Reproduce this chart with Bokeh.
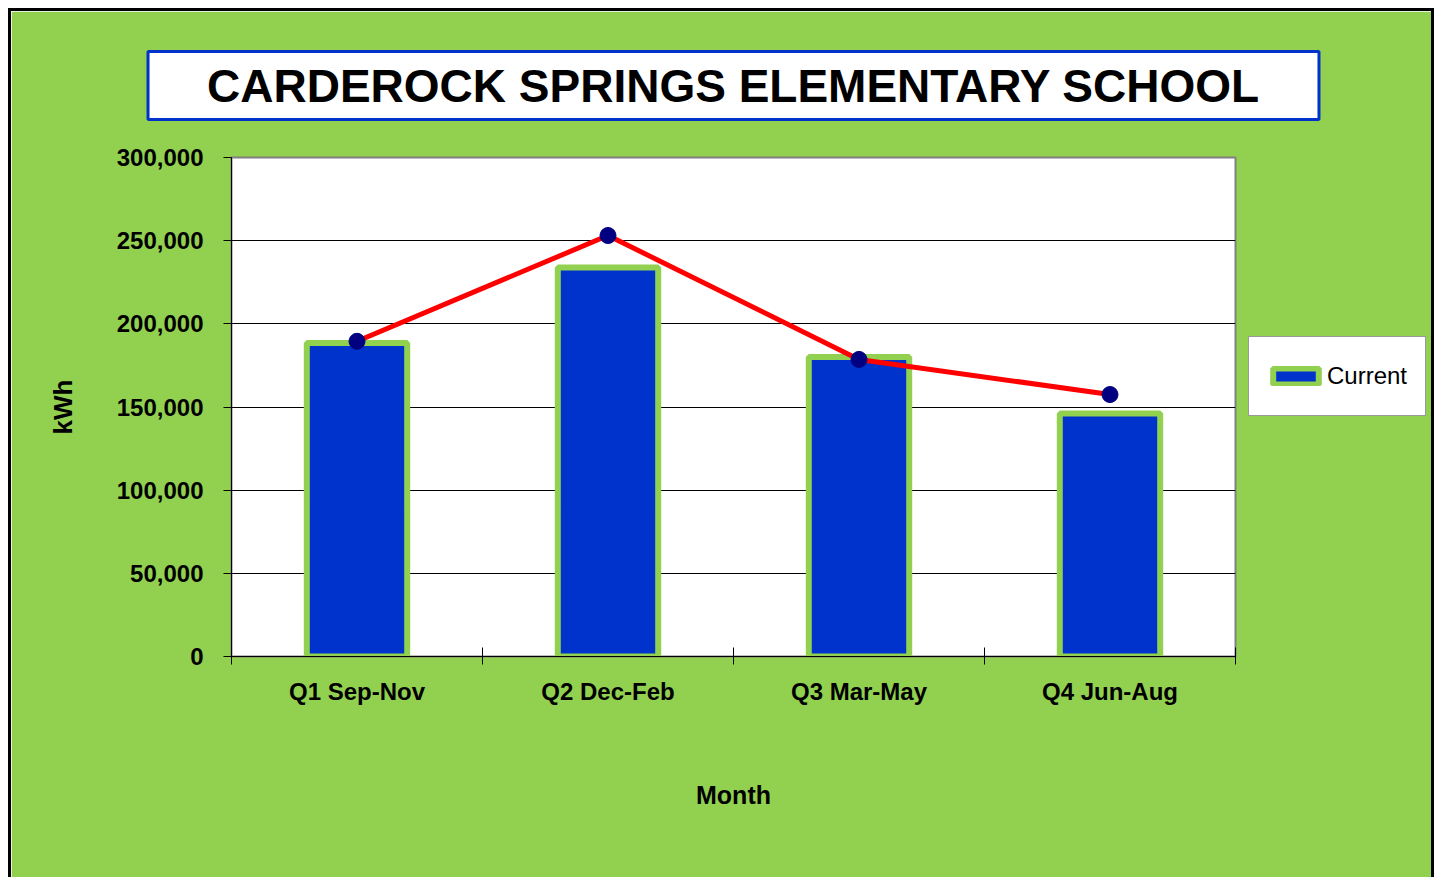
from bokeh.plotting import figure
from bokeh.models import (Range1d, FixedTicker, NumeralTickFormatter, Legend, LegendItem)
from bokeh.embed import file_html
from bokeh.resources import INLINE

# ---- data ----
quarters = ["Q1 Sep-Nov", "Q2 Dec-Feb", "Q3 Mar-May", "Q4 Jun-Aug"]
current_kwh = [188500, 233900, 180000, 146100]
baseline_kwh = [189500, 253100, 178600, 157500]
y_ticks = [0, 50000, 100000, 150000, 200000, 250000, 300000]
title_text = "CARDEROCK SPRINGS ELEMENTARY SCHOOL"

GREEN = "#92D050"
BLUE = "#0033CC"
RED = "#FF0000"
NAVY = "#000080"
FONT = "Liberation Sans"

xs = [i + 0.5 for i in range(len(quarters))]

p = figure(frame_width=1004, frame_height=499, output_backend="svg", toolbar_location=None,
           x_range=Range1d(0, len(quarters)), y_range=Range1d(0, 300000),
           min_border_left=220, min_border_right=0, min_border_top=146, min_border_bottom=221)
p.styles = {"margin-left": "8px", "margin-top": "8px",
            "max-width": "1426px", "overflow": "hidden",
            "border-left": "3px solid black", "border-top": "3px solid black",
            "border-right": "3px solid black"}

p.border_fill_color = GREEN
p.background_fill_color = "white"
p.outline_line_color = "#808080"
p.outline_line_width = 2

bars = p.vbar(x=xs, top=current_kwh, width=0.40, fill_color=BLUE,
              line_color=GREEN, line_width=6)
p.line(xs, baseline_kwh, line_color=RED, line_width=5)
p.scatter(xs, baseline_kwh, size=16, fill_color=NAVY, line_color=NAVY)

xa = p.below[0]
ya = p.left[0]

# title
p.title.text = title_text
p.title.align = "center"
p.title.text_font = FONT
p.title.text_font_style = "bold"
p.title.text_font_size = "46px"
p.title.text_color = "black"
p.title.background_fill_color = "white"
p.title.border_line_color = BLUE
p.title.border_line_width = 3
p.title.padding = dict(left=59, right=59, top=8, bottom=8)
p.title.standoff = 76

# grid
p.xgrid.grid_line_color = None
p.ygrid.grid_line_color = "black"
p.ygrid.grid_line_width = 1
p.ygrid.ticker = FixedTicker(ticks=y_ticks)

# y axis
ya.ticker = FixedTicker(ticks=y_ticks)
ya.formatter = NumeralTickFormatter(format="0,0")
ya.major_tick_in = 0
ya.major_tick_out = 8
ya.minor_tick_line_color = None
ya.axis_line_color = "black"
ya.major_tick_line_color = "black"
ya.major_label_text_font = FONT
ya.major_label_text_font_style = "bold"
ya.major_label_text_font_size = "24px"
ya.major_label_text_color = "black"
ya.major_label_standoff = 20
ya.axis_label = "kWh"
ya.axis_label_text_font = FONT
ya.axis_label_text_font_style = "bold"
ya.axis_label_text_font_size = "26px"
ya.axis_label_text_color = "black"
ya.axis_label_standoff = 36

# x axis
xa.ticker = FixedTicker(ticks=xs, minor_ticks=list(range(len(quarters) + 1)))
xa.major_label_overrides = {x: q for x, q in zip(xs, quarters)}
xa.major_tick_line_color = None
xa.minor_tick_line_color = "black"
xa.minor_tick_in = 9
xa.minor_tick_out = 8
xa.axis_line_color = "black"
xa.major_label_text_font = FONT
xa.major_label_text_font_style = "bold"
xa.major_label_text_font_size = "24px"
xa.major_label_text_color = "black"
xa.major_label_standoff = 13
xa.axis_label = "Month"
xa.axis_label_text_font = FONT
xa.axis_label_text_font_style = "bold"
xa.axis_label_text_font_size = "25px"
xa.axis_label_text_color = "black"
xa.axis_label_standoff = 73

# legend
legend = Legend(items=[LegendItem(label="Current", renderers=[bars])],
                location=(13, 240), orientation="vertical",
                label_text_font=FONT, label_text_font_size="24px",
                label_text_color="black",
                label_height=42, glyph_width=57, glyph_height=20,
                label_standoff=3, padding=18, margin=0,
                border_line_color="#333333", border_line_width=1.5,
                background_fill_color="white", background_fill_alpha=1)
p.add_layout(legend, "right")

open("out.html", "w").write(file_html(p, INLINE))
